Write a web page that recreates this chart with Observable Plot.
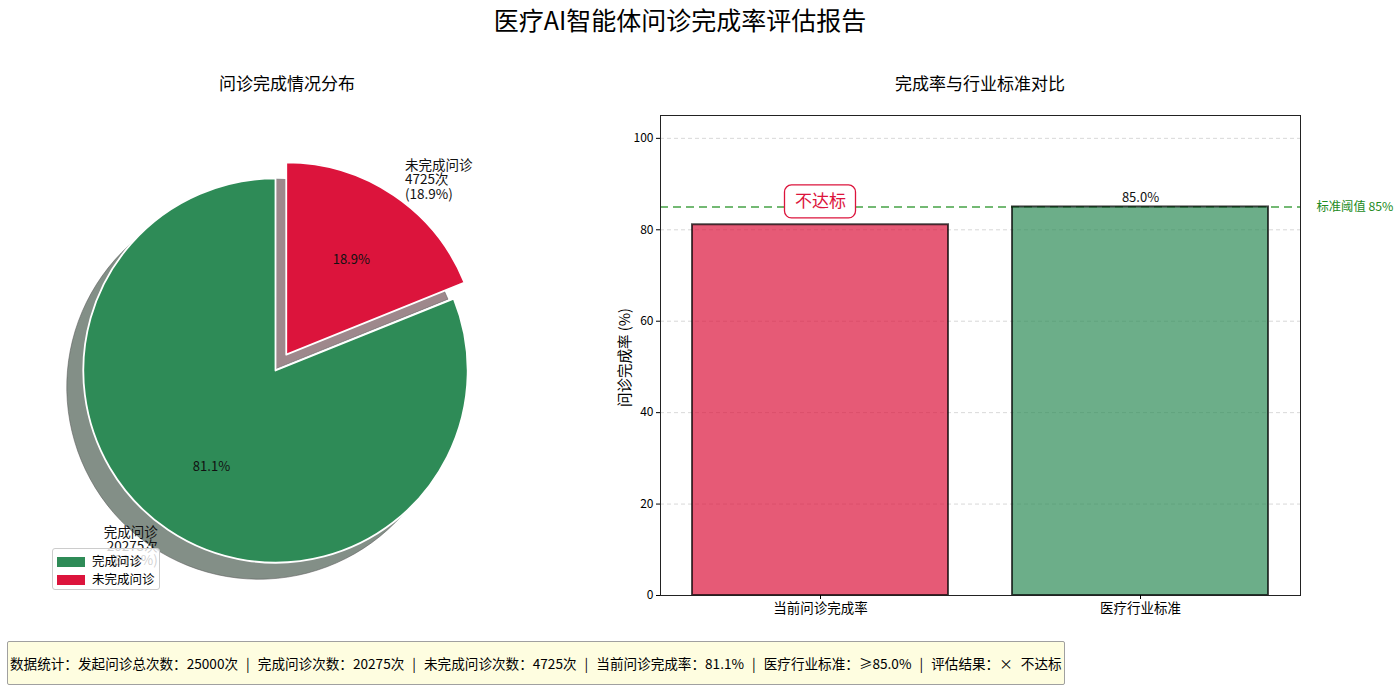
<!DOCTYPE html>
<html>
<head>
<meta charset="utf-8">
<script src="https://cdn.jsdelivr.net/npm/d3@7"></script>
<script src="https://cdn.jsdelivr.net/npm/@observablehq/plot@0.6"></script>
<style>
  html, body { margin: 0; padding: 0; background: #fff; }
  #root { position: relative; width: 1400px; height: 693px; overflow: hidden; font-family: "Noto Sans CJK SC", "Noto Sans", sans-serif; color: #000; }
  .abs { position: absolute; }
  .title { left: 0; width: 1360px; top: 3px; text-align: center; font-size: 25px; line-height: 32px; }
  .sub { font-size: 17px; line-height: 24px; text-align: center; width: 400px; top: 71px; }
  #legend { left: 52px; top: 548px; width: 106px; height: 40px; background: rgba(255,255,255,0.8); border: 1px solid #ccc; border-radius: 3px; z-index: 5; font-size: 12.5px; }
  .lrow { position: absolute; left: 4px; height: 16px; line-height: 16px; white-space: nowrap; }
  .sw { display: inline-block; width: 28px; height: 10px; vertical-align: middle; margin-right: 7px; margin-top: -2px; }
  #stats { left: 7px; top: 641px; width: 1054px; height: 42px; border: 1px solid #a0a0a0; background: #fefde0; font-size: 13.6px; line-height: 42px; padding-left: 2px; white-space: nowrap; border-radius: 2px; word-spacing: 5px; }
  svg { overflow: visible; }
</style>
</head>
<body>
<div id="root">
  <div class="abs title" id="mainTitle"></div>
  <div class="abs sub" id="pieTitle" style="left:87px"></div>
  <div class="abs sub" id="barTitle" style="left:780px"></div>
  <div class="abs" id="pieBox" style="left:0;top:100px"></div>
  <div class="abs" id="legend"></div>
  <div class="abs" id="barBox" style="left:600px;top:100px"></div>
  <div class="abs" id="stats"></div>
</div>
<script>
// ---------------- data ----------------
const mainTitle = "医疗AI智能体问诊完成率评估报告";
const pieTitle = "问诊完成情况分布";
const barTitle = "完成率与行业标准对比";
const pieLabels = ["完成问诊", "未完成问诊"];
const pieCounts = [20275, 4725];
const pieColors = ["#2E8B57", "#DC143C"];
const pieShadowColors = ["#838f87", "#9e888c"];
const pieExplode = [0, 0.1];
const barCategories = ["当前问诊完成率", "医疗行业标准"];
const barValues = [81.1, 85.0];
const barColors = ["#DC143C", "#2E8B57"];
const threshold = 85;
const yTicks = [0, 20, 40, 60, 80, 100];
const yLabel = "问诊完成率 (%)";
const thresholdLabel = "标准阈值 85%";
const failLabel = "不达标";
const totalCount = 25000;

// ---------------- titles ----------------
document.getElementById("mainTitle").textContent = mainTitle;
document.getElementById("pieTitle").textContent = pieTitle;
document.getElementById("barTitle").textContent = barTitle;

// ---------------- pie ----------------
const total = d3.sum(pieCounts);
let cum = 0;
const slices = pieLabels.map((label, i) => {
  const frac = pieCounts[i] / total;
  const t1 = 90 + 360 * cum;          // matplotlib-style degrees, ccw from +x
  const t2 = t1 + 360 * frac;
  cum += frac;
  const tm = (t1 + t2) / 2 * Math.PI / 180;
  const ex = pieExplode[i];
  return {
    label, i, count: pieCounts[i], frac, t1, t2,
    ox: ex * Math.cos(tm), oy: ex * Math.sin(tm),
    lx: (1.1 + ex) * Math.cos(tm), ly: (1.1 + ex) * Math.sin(tm),
    px: (0.6 + ex) * Math.cos(tm), py: (0.6 + ex) * Math.sin(tm),
    text: `${label}\n${pieCounts[i]}次\n(${(frac * 100).toFixed(1)}%)`,
    pct: `${(frac * 100).toFixed(1)}%`
  };
});

function pieMark(index, scales) {
  const cx = scales.x(0), cy = scales.y(0);
  const r = scales.x(1) - scales.x(0);
  const sh = 0.086 * r;
  const g = d3.create("svg:g");
  const arc = d3.arc().innerRadius(0).outerRadius(r);
  const toD3 = s => ({startAngle: (90 - s.t2) * Math.PI / 180, endAngle: (90 - s.t1) * Math.PI / 180});
  for (const s of slices) {
    g.append("path").attr("d", arc(toD3(s)))
      .attr("transform", `translate(${cx + s.ox * r - sh},${cy - s.oy * r + sh})`)
      .attr("fill", pieShadowColors[s.i]).attr("stroke", "#5a5a5a").attr("stroke-width", 0.8).attr("stroke-opacity", 0.7);
  }
  for (const s of slices) {
    g.append("path").attr("d", arc(toD3(s)))
      .attr("transform", `translate(${cx + s.ox * r},${cy - s.oy * r})`)
      .attr("fill", pieColors[s.i]).attr("stroke", "#fff").attr("stroke-width", 1.8).attr("stroke-linejoin", "round");
  }
  return g.node();
}

const R = 192.2, PW = 560, PH = 510, PCX = 275.5, PCY = 270.5;
const piePlot = Plot.plot({
  width: PW, height: PH,
  marginLeft: 0, marginRight: 0, marginTop: 0, marginBottom: 0,
  style: {fontFamily: "'Noto Sans CJK SC', sans-serif", background: "transparent", overflow: "visible"},
  x: {type: "linear", domain: [-PCX / R, (PW - PCX) / R], range: [0, PW], axis: null},
  y: {type: "linear", domain: [-(PH - PCY) / R, PCY / R], range: [PH, 0], axis: null},
  marks: [
    pieMark,
    Plot.text(slices, {x: "px", y: "py", text: "pct", fontSize: 13, fill: "#111"}),
    Plot.text(slices.filter(s => s.lx >= 0), {x: "lx", y: "ly", text: "text", textAnchor: "start", fontSize: 13.5, lineHeight: 1.05, fill: "#111"}),
    Plot.text(slices.filter(s => s.lx < 0), {x: "lx", y: "ly", text: "text", textAnchor: "end", fontSize: 13.5, lineHeight: 1.05, fill: "#111"})
  ]
});
document.getElementById("pieBox").append(piePlot);

// legend (HTML, semi-transparent like the original)
const legend = document.getElementById("legend");
pieLabels.forEach((lab, i) => {
  const row = document.createElement("div");
  row.className = "lrow";
  row.style.top = (4 + i * 18) + "px";
  const sw = document.createElement("span");
  sw.className = "sw";
  sw.style.background = pieColors[i];
  row.append(sw, document.createTextNode(lab));
  legend.append(row);
});

// ---------------- bars ----------------
const bars = barCategories.map((c, i) => ({cat: c, value: barValues[i], color: barColors[i]}));

function failBox(index, scales) {
  const bwFn = scales.x.bandwidth;
  const bw = typeof bwFn === "function" ? bwFn() : (bwFn || 0);
  const cx = scales.x(barCategories[0]) + bw / 2;
  const cy = scales.y(threshold) - 5;
  const g = d3.create("svg:g");
  g.append("rect").attr("x", cx - 35.5).attr("y", cy - 16.5).attr("width", 71).attr("height", 33)
    .attr("rx", 7).attr("fill", "#fff").attr("stroke", "#DC143C").attr("stroke-width", 1.3);
  return g.node();
}

const barPlot = Plot.plot({
  width: 800, height: 540,
  marginLeft: 60, marginRight: 100, marginTop: 15, marginBottom: 45,
  style: {fontFamily: "'Noto Sans CJK SC', sans-serif", background: "transparent", overflow: "visible", color: "#000"},
  x: {domain: barCategories, paddingInner: 0.2, paddingOuter: 0.1, round: false},
  y: {domain: [0, 105]},
  marks: [
    Plot.gridY(yTicks, {stroke: "#c8c8c8", strokeOpacity: 0.7, strokeDasharray: "4,3"}),
    Plot.ruleY([threshold], {stroke: "green", strokeOpacity: 0.55, strokeWidth: 2, strokeDasharray: "8,5"}),
    Plot.barY(bars, {x: "cat", y: "value", fill: "color", fillOpacity: 0.7, stroke: "#000", strokeOpacity: 0.7, strokeWidth: 2}),
    Plot.text(bars.filter(d => d.value >= threshold), {x: "cat", y: "value", text: d => d.value.toFixed(1) + "%", dy: -9.5, fontSize: 13, fill: "#111"}),
    failBox,
    Plot.text([failLabel], {x: () => barCategories[0], y: () => threshold, text: d => d, dy: -5, fontSize: 17, fill: "#DC143C"}),
    Plot.text([thresholdLabel], {y: () => threshold, frameAnchor: "right", textAnchor: "start", dx: 16, text: d => d, fontSize: 12.3, fill: "#228B22"}),
    Plot.frame({stroke: "#222", strokeWidth: 1}),
    Plot.axisY({ticks: yTicks, tickSize: 4, tickPadding: 3, fontSize: 12, label: null}),
    Plot.axisX({tickSize: 4, tickPadding: 4, fontSize: 13.5, label: null}),
    Plot.text([yLabel], {frameAnchor: "left", textAnchor: "middle", rotate: -90, dx: -35, dy: 2, text: d => d, fontSize: 14.5, fill: "#000"})
  ]
});
document.getElementById("barBox").append(barPlot);

// ---------------- stats box ----------------
const rate = (barValues[0]).toFixed(1);
document.getElementById("stats").textContent =
  `数据统计：发起问诊总次数：${totalCount}次 | 完成问诊次数：${pieCounts[0]}次 | 未完成问诊次数：${pieCounts[1]}次 | 当前问诊完成率：${rate}% | 医疗行业标准：≥${threshold.toFixed(1)}% | 评估结果：× ${failLabel}`;
</script>
</body>
</html>
